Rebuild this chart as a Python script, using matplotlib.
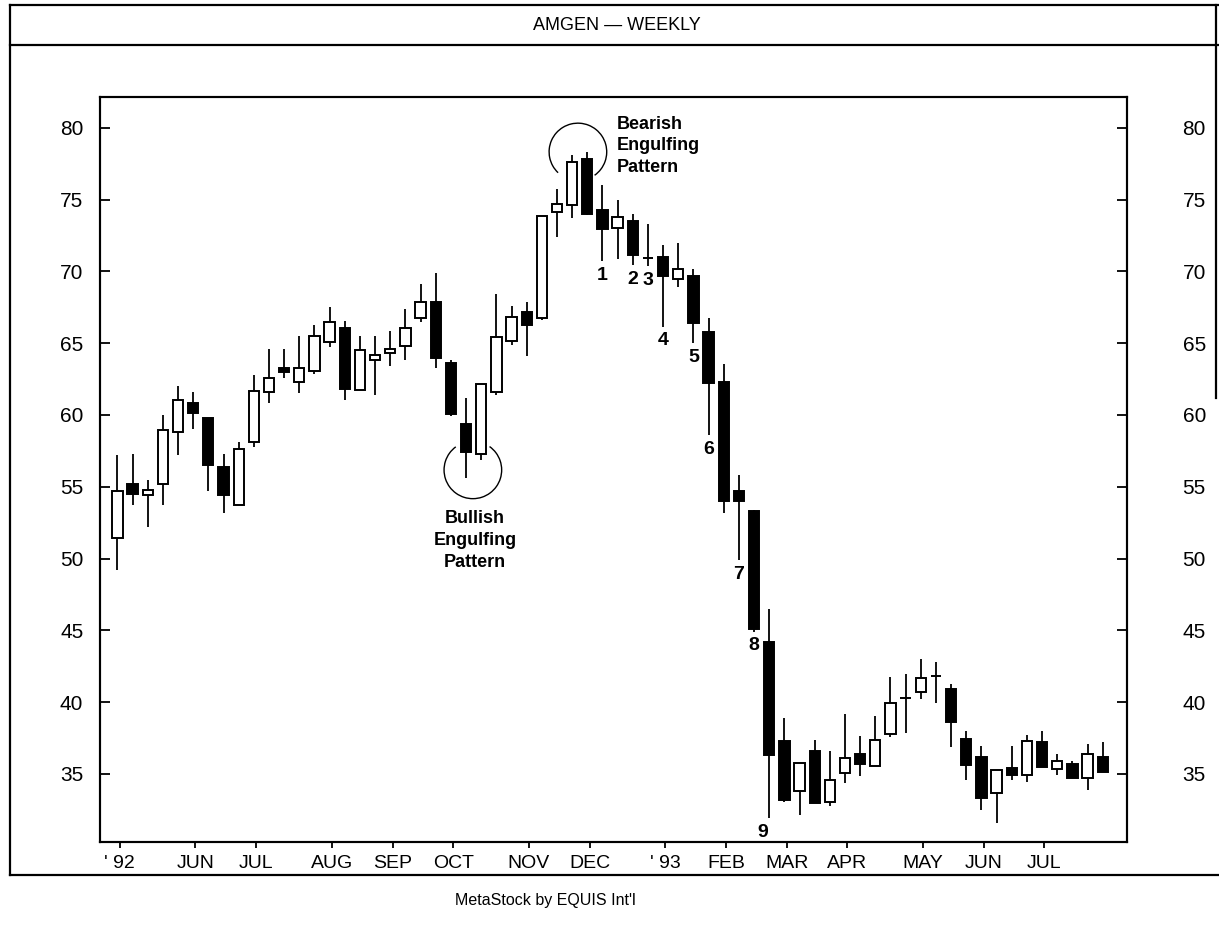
import matplotlib
matplotlib.use("Agg")
import matplotlib.pyplot as plt
from matplotlib.patches import Rectangle, Arc
from matplotlib.lines import Line2D

# weekly candles
opens = [51.4, 55.2, 54.45, 55.2, 58.8, 60.85, 59.8, 56.35, 53.7, 58.1,
         61.6, 63.3, 62.3, 63.05, 65.05, 66.05, 61.75, 63.85, 64.3, 64.8,
         66.75, 67.85, 63.65, 59.4, 57.3, 61.6, 65.15, 67.15, 66.75, 74.15,
         74.65, 77.8, 74.3, 73.05, 73.5, 70.95, 71.0, 69.5, 69.7, 65.75,
         62.3, 54.7, 53.3, 44.2, 37.3, 33.8, 36.6, 33.05, 35.05, 36.4,
         35.55, 37.75, 40.25, 40.7, 41.8, 40.9, 37.4, 36.15, 33.65, 35.4,
         34.9, 37.2, 35.35, 35.7, 34.7, 36.2]
closes = [54.7, 54.5, 54.75, 58.95, 61.05, 60.15, 56.5, 54.45, 57.6, 61.7,
          62.6, 63.0, 63.25, 65.5, 66.45, 61.8, 64.5, 64.2, 64.6, 66.05,
          67.85, 63.95, 60.05, 57.45, 62.15, 65.45, 66.8, 66.3, 73.85, 74.7,
          77.6, 74.0, 72.95, 73.8, 71.15, 70.95, 69.65, 70.2, 66.4, 62.25,
          54.0, 54.0, 45.1, 36.3, 33.2, 35.75, 33.0, 34.6, 36.1, 35.7,
          37.35, 39.9, 40.25, 41.7, 41.8, 38.6, 35.6, 33.35, 35.3, 34.9,
          37.3, 35.5, 35.9, 34.7, 36.35, 35.15]
highs = [57.2, 57.3, 55.5, 60.0, 62.0, 61.6, 59.8, 57.3, 58.15, 62.8,
         64.6, 64.6, 65.5, 66.3, 67.55, 66.55, 65.5, 65.5, 65.85, 67.35,
         69.15, 69.9, 63.85, 61.15, 62.15, 68.4, 67.6, 67.9, 73.85, 75.75,
         78.1, 78.35, 76.05, 74.95, 74.0, 73.3, 71.85, 72.0, 70.2, 66.75,
         63.55, 55.8, 53.4, 46.45, 38.9, 35.75, 37.35, 36.6, 39.2, 37.65,
         39.05, 41.75, 41.95, 43.0, 42.8, 41.25, 37.95, 36.95, 35.3, 36.95,
         37.7, 38.0, 36.35, 35.9, 37.1, 37.2]
lows = [49.2, 53.7, 52.2, 53.7, 57.2, 59.0, 54.7, 53.2, 53.7, 57.8,
        60.85, 62.55, 61.55, 62.85, 64.75, 61.05, 61.75, 61.4, 63.4, 63.85,
        66.5, 63.3, 59.9, 55.6, 56.85, 61.4, 64.9, 64.1, 66.6, 72.4,
        73.7, 73.95, 70.7, 70.9, 70.45, 70.35, 66.15, 68.95, 65.0, 58.6,
        53.15, 49.9, 44.9, 31.9, 33.05, 32.1, 33.0, 32.75, 34.35, 34.85,
        35.55, 37.6, 37.85, 40.2, 39.9, 36.9, 34.55, 32.45, 31.6, 34.6,
        34.4, 35.5, 34.9, 34.7, 33.9, 35.15]

month_weeks = [0, 5, 9, 14, 18, 22, 27, 31, 36, 40, 44, 48, 53, 57, 61]
month_labels = ["' 92", "JUN", "JUL", "AUG", "SEP", "OCT", "NOV", "DEC",
                "' 93", "FEB", "MAR", "APR", "MAY", "JUN", "JUL"]
price_ticks = [35, 40, 45, 50, 55, 60, 65, 70, 75, 80]

# numbered weeks of the decline (candle index -> label)
count_weeks = [32, 34, 35, 36, 38, 39, 41, 42, 43]
count_labels = ["1", "2", "3", "4", "5", "6", "7", "8", "9"]

text_font = ["Liberation Sans", "DejaVu Sans"]

fig = plt.figure(figsize=(12.19, 9.26), dpi=100)
ax = fig.add_axes([0.0820, 0.0907, 0.8425, 0.8045])

body_w = 0.68
for i in range(len(opens)):
    o, c, h, l = opens[i], closes[i], highs[i], lows[i]
    ax.vlines(i, l, h, color="black", lw=1.3, zorder=1)
    fill = "white" if c >= o else "black"
    ax.add_patch(Rectangle((i - body_w / 2, min(o, c)), body_w, abs(c - o),
                           facecolor=fill, edgecolor="black", lw=1.4, zorder=2))

ax.set_xlim(-1.15, 66.6)
ax.set_ylim(30.25, 82.15)

ax.set_xticks([w + 0.15 for w in month_weeks])
ax.set_xticklabels(month_labels, family=text_font, fontsize=14)
ax.tick_params(axis="x", direction="out", length=4, width=1.3, pad=5)

ax.set_yticks(price_ticks)
ax.set_yticklabels([str(p) for p in price_ticks], family=text_font, fontsize=15)
ax.tick_params(axis="y", direction="in", length=7, width=1.3, pad=12)

ax2 = ax.twinx()
ax2.set_ylim(ax.get_ylim())
ax2.set_yticks(price_ticks)
ax2.set_yticklabels([str(p) for p in price_ticks], family=text_font, fontsize=15)
ax2.tick_params(axis="y", direction="in", length=7, width=1.3, pad=40)

for a in (ax, ax2):
    for s in a.spines.values():
        s.set_linewidth(1.5)

# engulfing patterns
ax.add_patch(Arc((30.38, 78.33), 3.8, 4.0, theta1=-56, theta2=228, lw=1.0, color="black"))
ax.text(32.95, 80.85, "Bearish\nEngulfing\nPattern", family=text_font, fontsize=13,
        fontweight="bold", ha="left", va="top", linespacing=1.35)
ax.add_patch(Arc((23.45, 56.17), 3.8, 4.0, theta1=125, theta2=416, lw=1.0, color="black"))
ax.text(23.6, 53.35, "Bullish\nEngulfing\nPattern", family=text_font, fontsize=13,
        fontweight="bold", ha="center", va="top", linespacing=1.35)

for w, lab in zip(count_weeks, count_labels):
    dx = -5 if lab == "9" else 0
    ax.annotate(lab, (w, lows[w]), xytext=(dx, -4), textcoords="offset points",
                ha="center", va="top", family=text_font, fontsize=14, fontweight="bold")

# page frame and title band
frame = dict(color="black", lw=1.6, transform=fig.transFigure)
fig.add_artist(Line2D([0.0082, 1.0], [0.9946, 0.9946], **frame))
fig.add_artist(Line2D([0.0082, 1.0], [0.9514, 0.9514], **frame))
fig.add_artist(Line2D([0.0082, 1.0], [0.0550, 0.0550], **frame))
fig.add_artist(Line2D([0.0082, 0.0082], [0.0550, 0.9946], **frame))
fig.add_artist(Line2D([0.9975, 0.9975], [0.57, 0.9946], **frame))

fig.text(0.506, 0.9725, "AMGEN \u2014 WEEKLY", family=text_font, fontsize=13,
         ha="center", va="center")
fig.text(0.447, 0.028, "MetaStock by EQUIS Int'l", family=text_font, fontsize=11.5,
         ha="center", va="center")

fig.savefig("out.png", dpi=100)
